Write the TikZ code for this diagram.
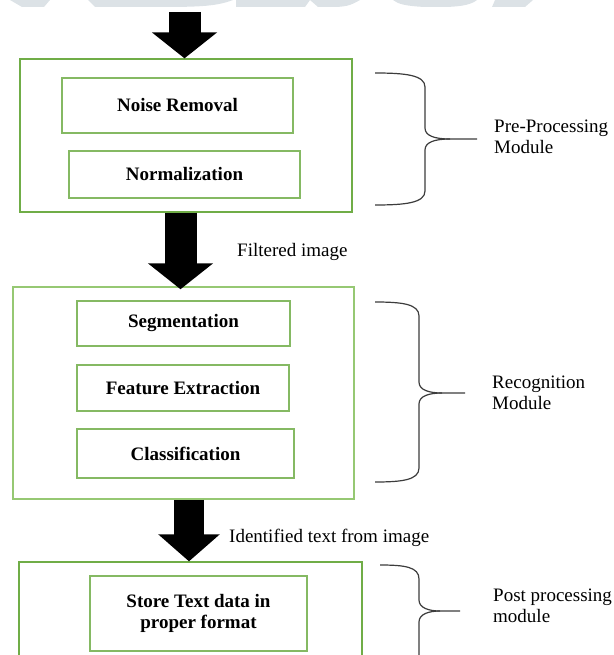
\documentclass[tikz,border=0pt]{standalone}
\usepackage{fontspec}
\setmainfont{Liberation Serif}
\usetikzlibrary{arrows.meta}
\definecolor{gA}{RGB}{112,173,71}
\definecolor{gB}{RGB}{150,200,115}
\definecolor{wm}{RGB}{220,226,230}
\definecolor{br}{RGB}{60,60,60}
\begin{document}
\begin{tikzpicture}[x=1pt,y=-1pt,
  font=\fontsize{19}{21}\selectfont,
  outerbox/.style={draw=gA,line width=1.3pt,inner sep=0pt},
  outerboxb/.style={draw=gB,line width=1.5pt,inner sep=0pt},
  innerbox/.style={draw=gA!85,line width=1.3pt,inner sep=0pt,font=\fontsize{19}{21}\selectfont\bfseries,align=center},
  blockarrow/.style={line width=32pt,-{Triangle[width=64pt,length=26pt]}},
  bracepath/.style={draw=br,line width=1.2pt},
  lbl/.style={inner sep=0pt,anchor=west,align=left}]
\useasboundingbox (0,0) rectangle (613,655);
\clip (0,0) rectangle (613,655);
% watermark remnants
\fill[wm] (10,0) -- (50,0) -- (44,7) -- (22,7) -- cycle;
\fill[wm] (88,0) -- (233,0) .. controls (215,7) and (195,7) .. (150,7) -- (95,7) -- cycle;
\fill[wm] (236,0) -- (310,0) -- (305,7) -- (236,7) -- cycle;
\fill[wm] (310,0) -- (360,0) .. controls (350,6) and (345,7) .. (330,7) -- (318,7) -- cycle;
\fill[wm] (393,0) -- (477,0) .. controls (470,6) and (455,7) .. (440,7) -- (425,7) .. controls (405,6) and (398,4) .. (393,0) -- cycle;
\fill[wm] (495,0) -- (533,0) -- (525,7) -- (492,7) -- cycle;
% module 1
\node[outerbox,minimum width=332pt,minimum height=153pt] (box1) at (186,135.5) {};
\node[innerbox,minimum width=231pt,minimum height=55pt] (noise) at (177.5,105.5) {Noise Removal};
\node[innerbox,minimum width=231pt,minimum height=47pt] (norm) at (184.5,174.5) {Normalization};
% module 2
\node[outerboxb,minimum width=341pt,minimum height=212pt] (box2) at (183.5,393) {};
\node[innerbox,minimum width=213pt,minimum height=45pt] (seg) at (183.5,323.5) {Segmentation};
\node[innerbox,minimum width=212pt,minimum height=46pt] (feat) at (183,388) {Feature Extraction};
\node[innerbox,minimum width=217pt,minimum height=49pt] (cls) at (185.5,453.5) {Classification};
% module 3
\node[outerbox,minimum width=343pt,minimum height=180pt] (box3) at (190.5,652) {};
\node[innerbox,minimum width=217pt,minimum height=75pt] (store) at (198.5,613.5) {Store Text data in\\proper format};
% arrows
\coordinate (ax1) at (184.5,12);
\coordinate (ax2) at (180.5,0);
\coordinate (ax3) at (189,0);
\draw[blockarrow] (ax1) -- (ax1 |- box1.north);
\draw[blockarrow] (ax2 |- box1.south) -- ([yshift=-3pt]ax2 |- box2.north);
\draw[blockarrow,line width=30pt,-{Triangle[width=60pt,length=27pt]}] (ax3 |- box2.south) -- (ax3 |- box3.north);
\node[lbl] (filt) at (237,252) {Filtered image};
\node[lbl] (ident) at (229,538) {Identified text from image};
% braces
\coordinate (t1) at (477,139);
\draw[bracepath] (375,73) .. controls (405,73) and (425,75) .. (425,87) -- (425,128)
  .. controls (425,136) and (435,139) .. (450,139) -- (t1);
\draw[bracepath] (375,205) .. controls (405,205) and (425,203) .. (425,191) -- (425,150)
  .. controls (425,142) and (435,139) .. (450,139);
\coordinate (t2) at (465,393);
\draw[bracepath] (375,302) .. controls (402,302) and (419,304) .. (419,316) -- (419,382)
  .. controls (419,390) and (429,393) .. (442,393) -- (t2);
\draw[bracepath] (375,482) .. controls (402,482) and (419,480) .. (419,468) -- (419,404)
  .. controls (419,396) and (429,393) .. (442,393);
\coordinate (t3) at (460,611);
\draw[bracepath] (380,565) .. controls (405,565) and (419,567) .. (419,579) -- (419,600)
  .. controls (419,608) and (429,611) .. (440,611) -- (t3);
\draw[bracepath] (419,700) -- (419,622)
  .. controls (419,614) and (429,611) .. (440,611);
% labels
\node[lbl] (lab1) at (494,136.5) {Pre-Processing\\Module};
\node[lbl] (lab2) at (492,392.5) {Recognition\\Module};
\node[lbl] (lab3) at (493,606) {Post processing\\module};
\end{tikzpicture}
\end{document}
